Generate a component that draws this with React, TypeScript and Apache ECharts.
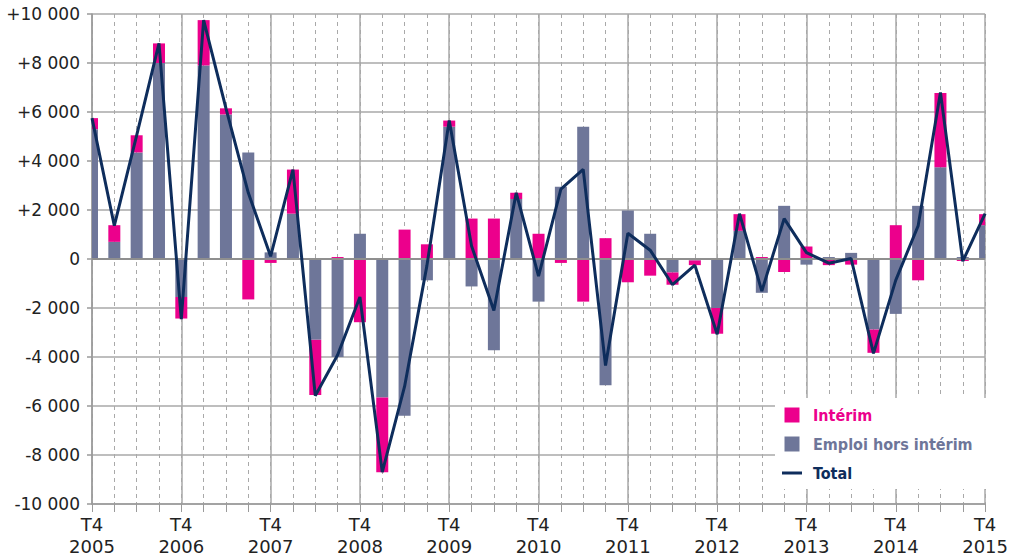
import React, { useEffect, useRef } from "react";
import * as echarts from "echarts";

const quarters = [
  "T4 2005",
  "T1 2006", "T2 2006", "T3 2006", "T4 2006",
  "T1 2007", "T2 2007", "T3 2007", "T4 2007",
  "T1 2008", "T2 2008", "T3 2008", "T4 2008",
  "T1 2009", "T2 2009", "T3 2009", "T4 2009",
  "T1 2010", "T2 2010", "T3 2010", "T4 2010",
  "T1 2011", "T2 2011", "T3 2011", "T4 2011",
  "T1 2012", "T2 2012", "T3 2012", "T4 2012",
  "T1 2013", "T2 2013", "T3 2013", "T4 2013",
  "T1 2014", "T2 2014", "T3 2014", "T4 2014",
  "T1 2015", "T2 2015", "T3 2015", "T4 2015",
];

const emploiHorsInterim = [
  5300, 700, 4350, 8000, -1550, 7900, 5900, 4350, 270, 1850,
  -3300, -4000, 1030, -5650, -6400, -870, 5400, -1120, -3720, 2450,
  -1740, 2950, 5400, -5150, 1980, 1030, -550, -60, -2000, 1150,
  -1380, 2170, -230, 80, 250, -2880, -2240, 2170, 3750, 80,
  1380,
];

const interim = [
  450, 680, 700, 800, -880, 1850, 250, -1650, -160, 1800,
  -2250, 80, -2580, -3050, 1200, 600, 250, 1650, 1650, 250,
  1030, -160, -1740, 850, -950, -680, -500, -190, -1050, 680,
  80, -530, 510, -250, -230, -950, 1380, -870, 3030, -80,
  450,
];

const total = [
  5750, 1360, 5050, 8800, -2450, 9750, 6150, 2700, 110, 3650,
  -5580, -3920, -1550, -8700, -5200, -270, 5650, 530, -2100, 2700,
  -700, 2850, 3660, -4350, 1050, 360, -1050, -250, -3070, 1850,
  -1310, 1650, 260, -170, 20, -3850, -860, 1350, 6800, -90,
  1850,
];

const yTicks = { min: -10000, max: 10000, interval: 2000 };

const PINK = "#EC008C";
const GRAY = "#6E7699";
const NAVY = "#0E2D5C";
const GRID = "#a9a9a9";
const AXIS = "#9a9a9a";
const BAR_W = 12;

function fmtY(v: number): string {
  const abs = Math.abs(v);
  const s = abs >= 1000 ? `${Math.floor(abs / 1000)} ${String(abs % 1000).padStart(3, "0")}` : String(abs);
  if (v > 0) return "+" + s;
  if (v < 0) return "-" + s;
  return "0";
}

// Stacked bar segment drawn through the axes' scales, clipped to the grid
function makeRenderer(color: string, stacked: boolean) {
  return (params: any, api: any) => {
    const x = api.value(0);
    const own = api.value(1);
    const below = stacked ? api.value(2) : 0;
    const base = stacked && (below >= 0) === (own >= 0) ? below : 0;
    const p0 = api.coord([x, base]);
    const p1 = api.coord([x, base + own]);
    const cs = params.coordSys;
    const shape = echarts.graphic.clipRectByRect(
      {
        x: p0[0] - BAR_W / 2,
        y: Math.min(p0[1], p1[1]),
        width: BAR_W,
        height: Math.abs(p1[1] - p0[1]),
      },
      { x: cs.x, y: cs.y, width: cs.width, height: cs.height }
    );
    if (!shape) return null;
    return { type: "rect", shape, style: { fill: color } };
  };
}

export default function App() {
  const ref = useRef<HTMLDivElement>(null);
  useEffect(() => {
    if (!ref.current) return;
    const chart = echarts.init(ref.current, undefined, { renderer: "svg" });
    const legendFont = {
      fontFamily: "DejaVu Sans Condensed",
      fontWeight: "bold" as const,
      fontSize: 16,
      padding: [0, 0, 0, 6],
    };
    const grayData = emploiHorsInterim.map((v, i) => [i, v]);
    const pinkData = interim.map((v, i) => [i, v, emploiHorsInterim[i]]);
    chart.setOption({
      animation: false,
      backgroundColor: "#ffffff",
      grid: { left: 92, right: 22, top: 14, bottom: 54, containLabel: false },
      legend: {
        orient: "vertical",
        left: 775,
        top: 398,
        padding: [9, 14, 8, 7],
        backgroundColor: "#ffffff",
        itemWidth: 20,
        itemHeight: 15,
        itemGap: 13,
        selectedMode: false,
        data: [
          { name: "Intérim", icon: "path://M0,0H10V10H0Z", itemStyle: { color: PINK }, textStyle: { ...legendFont, color: PINK } },
          { name: "Emploi hors intérim", icon: "path://M0,0H10V10H0Z", itemStyle: { color: GRAY }, textStyle: { ...legendFont, color: GRAY } },
          { name: "Total", icon: "path://M0,0H20V3H0Z", itemStyle: { color: NAVY }, textStyle: { ...legendFont, color: NAVY } },
        ],
      },
      xAxis: [
        {
          type: "category",
          data: quarters,
          boundaryGap: false,
          axisLine: { onZero: false, lineStyle: { color: AXIS, width: 1.5 } },
          axisTick: { show: true, interval: 0, length: 8, lineStyle: { color: AXIS, width: 1 } },
          axisLabel: {
            interval: 3,
            formatter: (v: string) => v.replace(" ", "\n"),
            fontFamily: "DejaVu Sans",
            fontSize: 18,
            lineHeight: 22,
            color: "#222222",
            margin: 9,
          },
          splitLine: { show: true, interval: 0, lineStyle: { color: GRID, width: 1, type: [4, 4] } },
        },
        {
          type: "category",
          data: quarters,
          boundaryGap: false,
          position: "top",
          axisLine: { show: false },
          axisTick: { show: false },
          axisLabel: { show: false },
          splitLine: { show: true, interval: 3, lineStyle: { color: GRID, width: 1.5 } },
        },
      ],
      yAxis: {
        type: "value",
        min: yTicks.min,
        max: yTicks.max,
        interval: yTicks.interval,
        axisLine: { show: true, lineStyle: { color: AXIS, width: 1.5 } },
        axisTick: { show: true, length: 5, lineStyle: { color: AXIS, width: 1.5 } },
        axisLabel: {
          formatter: fmtY,
          fontFamily: "DejaVu Sans",
          fontSize: 17,
          color: "#222222",
          margin: 12,
        },
        splitLine: { show: true, lineStyle: { color: GRID, width: 1.5 } },
      },
      series: [
        {
          name: "Emploi hors intérim",
          type: "custom",
          xAxisIndex: 0,
          data: grayData,
          encode: { x: 0, y: 1 },
          itemStyle: { color: GRAY },
          renderItem: makeRenderer(GRAY, false),
          z: 2,
          markLine: {
            silent: true,
            symbol: ["none", "none"],
            label: { show: false },
            lineStyle: { color: "#8f8f8f", width: 2, type: "solid" },
            data: [{ yAxis: 0 }],
          },
        },
        {
          name: "Intérim",
          type: "custom",
          xAxisIndex: 0,
          data: pinkData,
          encode: { x: 0, y: 1 },
          itemStyle: { color: PINK },
          renderItem: makeRenderer(PINK, true),
          z: 2,
        },
        {
          name: "Total",
          type: "line",
          xAxisIndex: 0,
          data: total,
          symbol: "none",
          z: 10,
          lineStyle: { color: NAVY, width: 3 },
          itemStyle: { color: NAVY },
        },
      ],
    });
    return () => chart.dispose();
  }, []);
  return (
    <div
      ref={ref}
      style={{ position: "absolute", left: 0, top: 0, width: 1011, height: 558 }}
    />
  );
}
